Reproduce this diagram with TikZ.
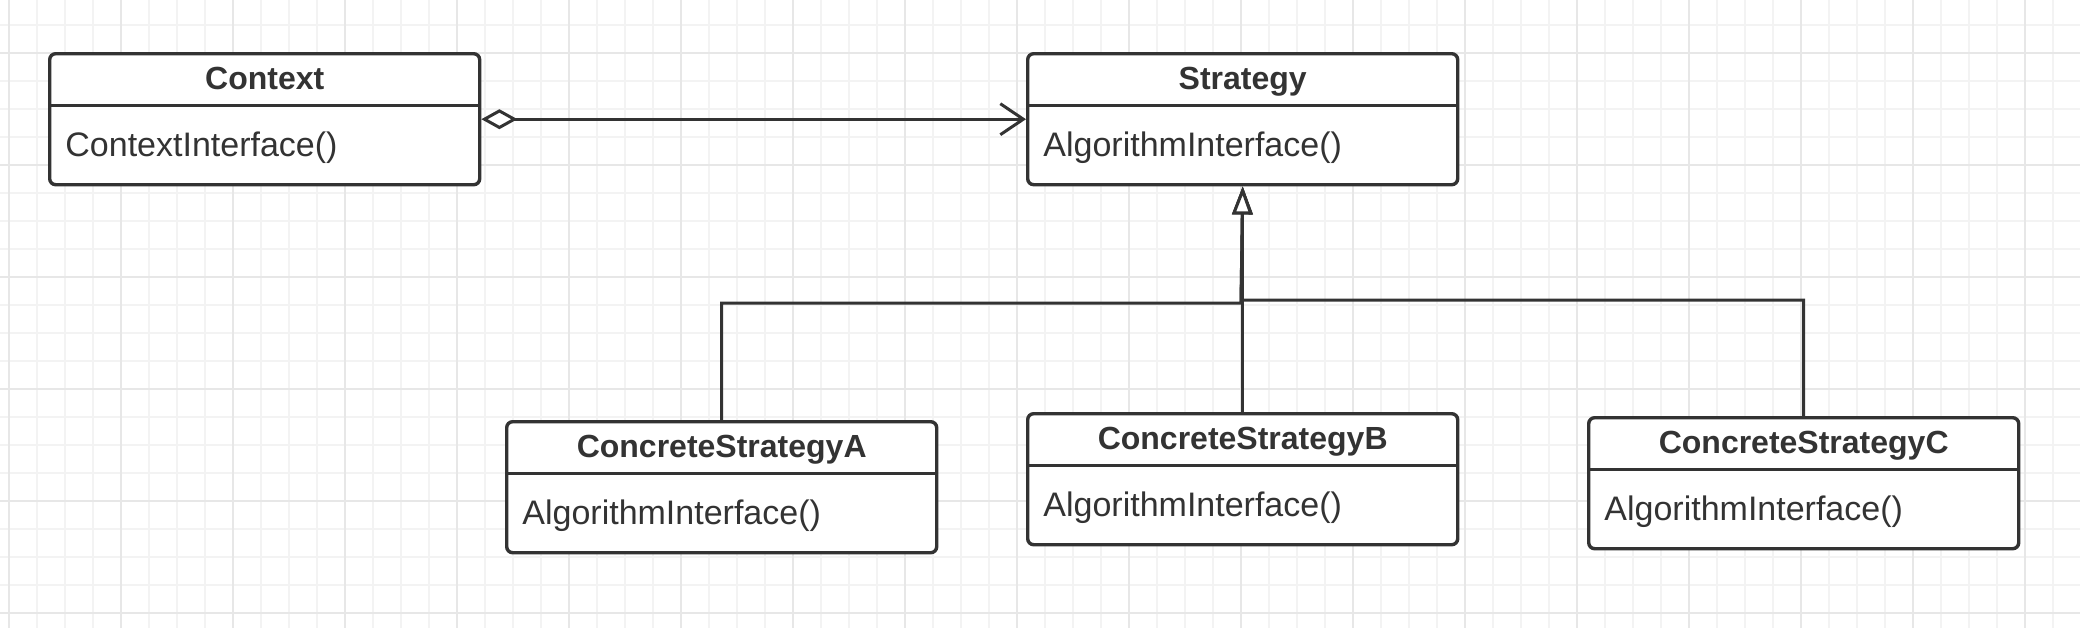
\documentclass[tikz,border=0pt]{standalone}
\usepackage{fontspec}
\setmainfont{Liberation Sans}
\usepackage{xcolor}
\usepackage{tikz}
\usetikzlibrary{arrows.meta,positioning}

\definecolor{inkgray}{HTML}{333333}
\definecolor{gridminor}{HTML}{F3F3F3}
\definecolor{gridmajor}{HTML}{E7E7E7}

\begin{document}
\begin{tikzpicture}[x=0.5pt,y=-0.5pt,
    classbox/.style={draw=inkgray, line width=1.7pt, rounded corners=3pt, fill=white,
      minimum width=215pt, minimum height=65.5pt, inner sep=0pt, anchor=north west},
    classname/.style={font=\fontsize{16}{19}\selectfont\bfseries, text=inkgray,
      text height=12pt, text depth=1.5pt, minimum height=26.5pt, inner sep=0pt},
    classop/.style={font=\fontsize{17}{20}\selectfont, text=inkgray,
      text height=12.5pt, text depth=0.5pt, inner sep=0pt},
    umlline/.style={draw=inkgray, line width=1.5pt},
    aggr/.style={umlline, {Diamond[fill=white,length=18pt,width=10pt]}-{Straight Barb[length=11.5pt,width=15.5pt]}},
    inherit/.style={umlline, -{Triangle[fill=white,length=14pt,width=10pt]}}]
    \useasboundingbox (0,0) rectangle (2080,628);
    \fill[white] (0,0) rectangle (2080,628);

    % background grid
    \foreach \gx in {9,37,...,2080} \draw[gridminor, line width=0.6pt] (\gx,0) -- (\gx,628);
    \foreach \gy in {25,53,...,628} \draw[gridminor, line width=0.6pt] (0,\gy) -- (2080,\gy);
    \foreach \gx in {9,121,...,2080} \draw[gridmajor, line width=0.8pt] (\gx,0) -- (\gx,628);
    \foreach \gy in {53,165,...,628} \draw[gridmajor, line width=0.8pt] (0,\gy) -- (2080,\gy);

    % Context
    \node[classbox] (ctx) at (48,52) {};
    \node[classname, below=0pt of ctx.north] (ctxname) {Context};
    \draw[umlline] ([yshift=-26.5pt]ctx.north west) -- ([yshift=-26.5pt]ctx.north east);
    \node[classop, right=8.5pt of ctx.west, yshift=-12.5pt] (ctxop) {ContextInterface()};

    % Strategy
    \node[classbox] (strat) at (1026,52) {};
    \node[classname, below=0pt of strat.north] (stratname) {Strategy};
    \draw[umlline] ([yshift=-26.5pt]strat.north west) -- ([yshift=-26.5pt]strat.north east);
    \node[classop, right=8.5pt of strat.west, yshift=-12.5pt] (stratop) {AlgorithmInterface()};

    % ConcreteStrategyA
    \node[classbox] (conA) at (505,420) {};
    \node[classname, below=0pt of conA.north] (conAname) {ConcreteStrategyA};
    \draw[umlline] ([yshift=-26.5pt]conA.north west) -- ([yshift=-26.5pt]conA.north east);
    \node[classop, right=8.5pt of conA.west, yshift=-12.5pt] (conAop) {AlgorithmInterface()};

    % ConcreteStrategyB
    \node[classbox] (conB) at (1026,412) {};
    \node[classname, below=0pt of conB.north] (conBname) {ConcreteStrategyB};
    \draw[umlline] ([yshift=-26.5pt]conB.north west) -- ([yshift=-26.5pt]conB.north east);
    \node[classop, right=8.5pt of conB.west, yshift=-12.5pt] (conBop) {AlgorithmInterface()};

    % ConcreteStrategyC
    \node[classbox] (conC) at (1587,416) {};
    \node[classname, below=0pt of conC.north] (conCname) {ConcreteStrategyC};
    \draw[umlline] ([yshift=-26.5pt]conC.north west) -- ([yshift=-26.5pt]conC.north east);
    \node[classop, right=8.5pt of conC.west, yshift=-12.5pt] (conCop) {AlgorithmInterface()};

    % aggregation
    \draw[aggr] (ctx.east) -- (strat.west);

    % generalization
    \coordinate (jointA) at (1241,303);
    \coordinate (jointC) at (1241,300);
    \draw[inherit] (conA.north) |- (jointA) -- (strat.south);
    \draw[inherit] (conB.north) -- (strat.south);
    \draw[inherit] (conC.north) |- (jointC) -- (strat.south);
\end{tikzpicture}
\end{document}
